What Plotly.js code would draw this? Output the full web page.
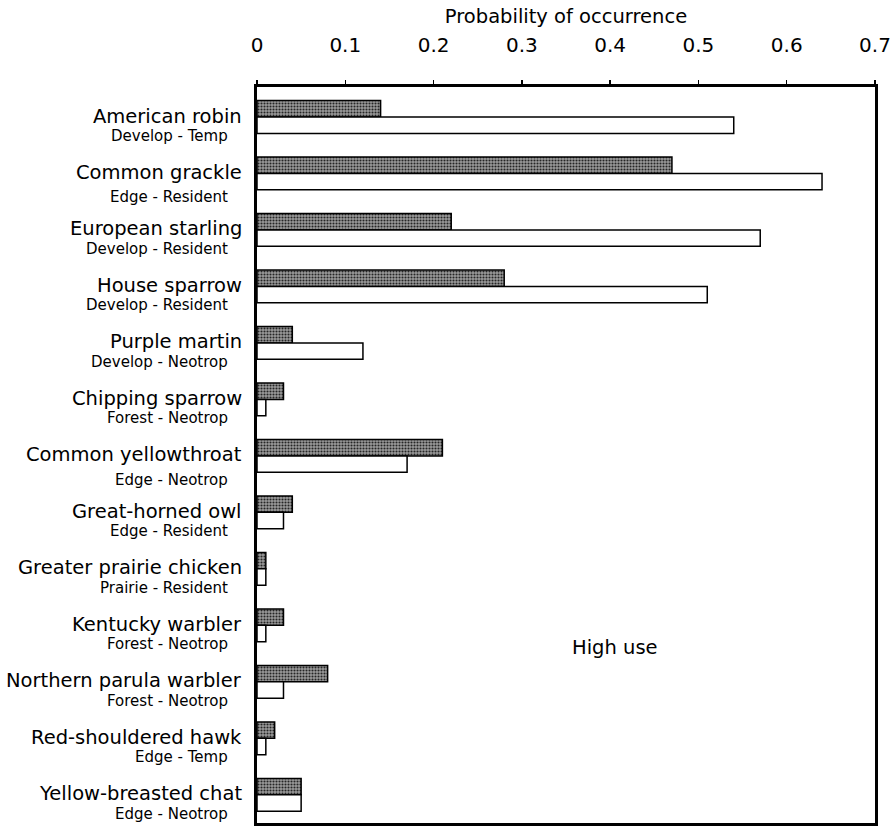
<!DOCTYPE html>
<html>
<head>
<meta charset="utf-8">
<script src="https://cdn.plot.ly/plotly-3.0.1.min.js"></script>
<style>
  html, body { margin: 0; padding: 0; background: #fff; }
  #chart { width: 893px; height: 827px; }
</style>
</head>
<body>
<div id="chart"></div>
<script>
// ---- data ----
const species = [
  "American robin", "Common grackle", "European starling", "House sparrow",
  "Purple martin", "Chipping sparrow", "Common yellowthroat", "Great-horned owl",
  "Greater prairie chicken", "Kentucky warbler", "Northern parula warbler",
  "Red-shouldered hawk", "Yellow-breasted chat"
];
const guilds = [
  "Develop - Temp", "Edge - Resident", "Develop - Resident", "Develop - Resident",
  "Develop - Neotrop", "Forest - Neotrop", "Edge - Neotrop", "Edge - Resident",
  "Prairie - Resident", "Forest - Neotrop", "Forest - Neotrop",
  "Edge - Temp", "Edge - Neotrop"
];
const darkValues = [0.14, 0.47, 0.22, 0.28, 0.04, 0.03, 0.21, 0.04, 0.01, 0.03, 0.08, 0.02, 0.05];
const whiteValues = [0.54, 0.64, 0.57, 0.51, 0.12, 0.01, 0.17, 0.03, 0.01, 0.01, 0.03, 0.01, 0.05];
const xTickVals = [0, 0.1, 0.2, 0.3, 0.4, 0.5, 0.6, 0.7];
const xTickText = ["0", "0.1", "0.2", "0.3", "0.4", "0.5", "0.6", "0.7"];
const xTitle = "Probability of occurrence";
const panelLabel = "High use";

// ---- styling ----
const FONT = "DejaVu Sans, Liberation Sans, Arial, sans-serif";
const subShift = { "Common grackle": -24, "Common yellowthroat": -24 };

const traces = [
  {
    type: "bar", orientation: "h",
    y: species, x: darkValues,
    marker: {
      color: "#7a7a7a",
      line: { color: "#000", width: 1.5 },
      pattern: { shape: ".", fgcolor: "#262626", bgcolor: "#9c9c9c", size: 3, solidity: 0.4 }
    },
    hoverinfo: "x+y"
  },
  {
    type: "bar", orientation: "h",
    y: species, x: whiteValues,
    marker: { color: "#ffffff", line: { color: "#000", width: 1.5 } },
    hoverinfo: "x+y"
  }
];

const annotations = [];
species.forEach((s, i) => {
  annotations.push({
    xref: "paper", yref: "y", x: 0, y: s,
    xanchor: "right", yanchor: "middle",
    xshift: -13, yshift: 1,
    text: s, showarrow: false,
    font: { family: FONT, size: 19.5, color: "#000" }
  });
  annotations.push({
    xref: "paper", yref: "y", x: 0, y: s,
    xanchor: "right", yanchor: "middle",
    xshift: -27, yshift: (subShift[s] !== undefined ? subShift[s] : -19),
    text: guilds[i], showarrow: false,
    font: { family: FONT, size: 15, color: "#000" }
  });
});
annotations.push({
  xref: "x", yref: "paper", x: 0.405, y: 0.238,
  xanchor: "center", yanchor: "middle",
  text: panelLabel, showarrow: false,
  font: { family: FONT, size: 19.5, color: "#000" }
});

const layout = {
  width: 893, height: 827,
  margin: { l: 257, r: 18, t: 87, b: 4 },
  paper_bgcolor: "#fff", plot_bgcolor: "#fff",
  showlegend: false,
  barmode: "group",
  bargap: 0.42, bargroupgap: 0,
  font: { family: FONT, color: "#000" },
  xaxis: {
    side: "top",
    range: [0, 0.7],
    tickvals: xTickVals, ticktext: xTickText,
    ticks: "outside", ticklen: 4, tickwidth: 1.5, tickcolor: "#000",
    ticklabelstandoff: 20,
    showgrid: false, zeroline: false,
    showline: true, linecolor: "#000", linewidth: 2.8, mirror: true,
    tickfont: { family: FONT, size: 20, color: "#000" },
    title: { text: xTitle, font: { family: FONT, size: 19.5, color: "#000" }, standoff: 5 }
  },
  yaxis: {
    type: "category",
    autorange: "reversed",
    showticklabels: false,
    ticks: "",
    showgrid: false, zeroline: false,
    showline: true, linecolor: "#000", linewidth: 2.8, mirror: true
  },
  annotations: annotations
};

Plotly.newPlot("chart", traces, layout, { displayModeBar: false, staticPlot: true });
</script>
</body>
</html>
